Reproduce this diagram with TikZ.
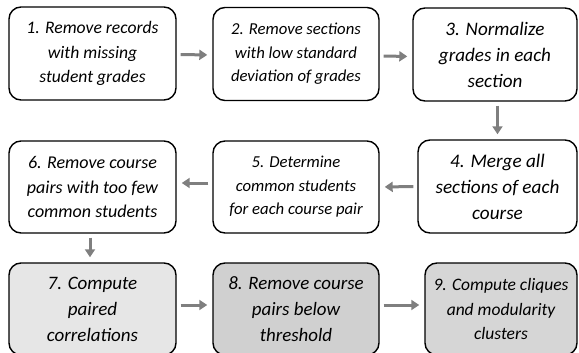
\documentclass[tikz,border=0pt]{standalone}
\usepackage{fontspec}
\setmainfont{Carlito}
\usetikzlibrary{arrows.meta,calc}
\begin{document}
\begin{tikzpicture}[x=1pt,y=1pt,
  box/.style={draw=black,line width=1.4pt,rounded corners=12pt,align=center,
    inner sep=0pt,font=\itshape},
  flow/.style={draw=arrowgray,line width=3pt,-{Triangle[length=8pt,width=10pt]},
    shorten <=4pt,shorten >=5pt},
]
\definecolor{arrowgray}{HTML}{7F7F7F}
\definecolor{fillA}{HTML}{E6E6E6}
\definecolor{fillB}{HTML}{D0D0D0}
\definecolor{fillC}{HTML}{D6D6D6}
\useasboundingbox (0,0) rectangle (579,-353);
\node[box,minimum width=167pt,minimum height=93pt,font=\itshape\fontsize{17.6}{24.5}\selectfont] (n1) at (92.5,-53.5) {1. Remove records\\with missing\\student grades};
\node[box,minimum width=166pt,minimum height=93pt,font=\itshape\fontsize{16.7}{23.5}\selectfont] (n2) at (296,-54) {2. Remove sections\\with low standard\\deviation of grades};
\node[box,minimum width=164pt,minimum height=93pt,font=\itshape\fontsize{19.1}{26}\selectfont] (n3) at (495,-54.5) {3. Normalize\\grades in each\\section};
\node[box,minimum width=159pt,minimum height=93pt,font=\itshape\fontsize{19.2}{26}\selectfont] (n4) at (497.5,-186.5) {4. Merge all\\sections of each\\course};
\node[box,minimum width=166pt,minimum height=92pt,font=\itshape\fontsize{16.7}{23.5}\selectfont] (n5) at (296,-187) {5. Determine\\common students\\for each course pair};
\node[box,minimum width=167pt,minimum height=92pt,font=\itshape\fontsize{18}{24.5}\selectfont] (n6) at (92.5,-187) {6. Remove course\\pairs with too few\\common students};
\node[box,fill=fillA,minimum width=167pt,minimum height=92pt,font=\itshape\fontsize{19}{26}\selectfont] (n7) at (92.5,-309) {7. Compute\\paired\\correlations};
\node[box,fill=fillB,minimum width=166pt,minimum height=92pt,font=\itshape\fontsize{18.9}{26}\selectfont] (n8) at (296,-309) {8. Remove course\\pairs below\\threshold};
\node[box,fill=fillC,minimum width=152pt,minimum height=92pt,font=\itshape\fontsize{17.5}{24.5}\selectfont] (n9) at (501,-309) {9. Compute cliques\\and modularity\\clusters};
\draw[flow] ($(n1.east)+(0,-1)$) -- ($(n2.west)+(0,-1)$);
\draw[flow] ($(n2.east)+(0,-2)$) -- ($(n3.west)+(0,-2)$);
\draw[flow] (n4.north |- n3.south) -- (n4.north);
\draw[flow] (n4.west) -- (n5.east);
\draw[flow] ($(n5.west)+(0,4)$) -- ($(n6.east)+(0,4)$);
\draw[flow] ($(n6.south)+(-2.5,0)$) -- ($(n7.north)+(-2.5,0)$);
\draw[flow] ($(n7.east)+(0,4)$) -- ($(n8.west)+(0,4)$);
\draw[flow] ($(n8.east)+(0,4)$) -- ($(n9.west)+(0,4)$);
\end{tikzpicture}
\end{document}
